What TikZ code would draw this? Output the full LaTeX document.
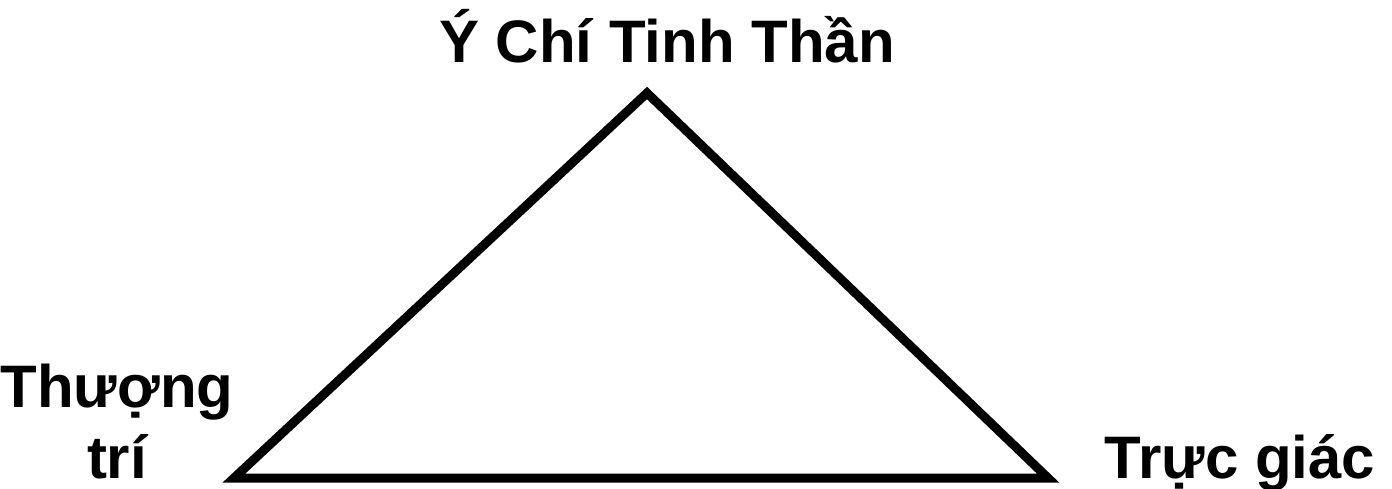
\documentclass[tikz,border=0pt]{standalone}
\usepackage{fontspec}
\setmainfont{Liberation Sans}
\begin{document}
\begin{tikzpicture}[x=1pt,y=1pt,
  lbl/.style={font=\fontsize{60}{71}\selectfont\bfseries, inner sep=0pt, anchor=base, align=center},
  edge/.style={draw=black, line width=9pt, line join=miter}]
\useasboundingbox (0,0) rectangle (1392,488);
\coordinate (apex) at (647,395);
\coordinate (bl) at (234,10);
\coordinate (br) at (1048,10);
\draw[edge] (apex) -- (bl) -- (br) -- cycle;
\node[lbl] (top) at (667,425) {Ý Chí Tinh Thần};
\node[lbl] (left) at (117,10) {Thượng\\trí};
\node[lbl] (right) at (1240,10) {Trực giác};
\end{tikzpicture}
\end{document}
